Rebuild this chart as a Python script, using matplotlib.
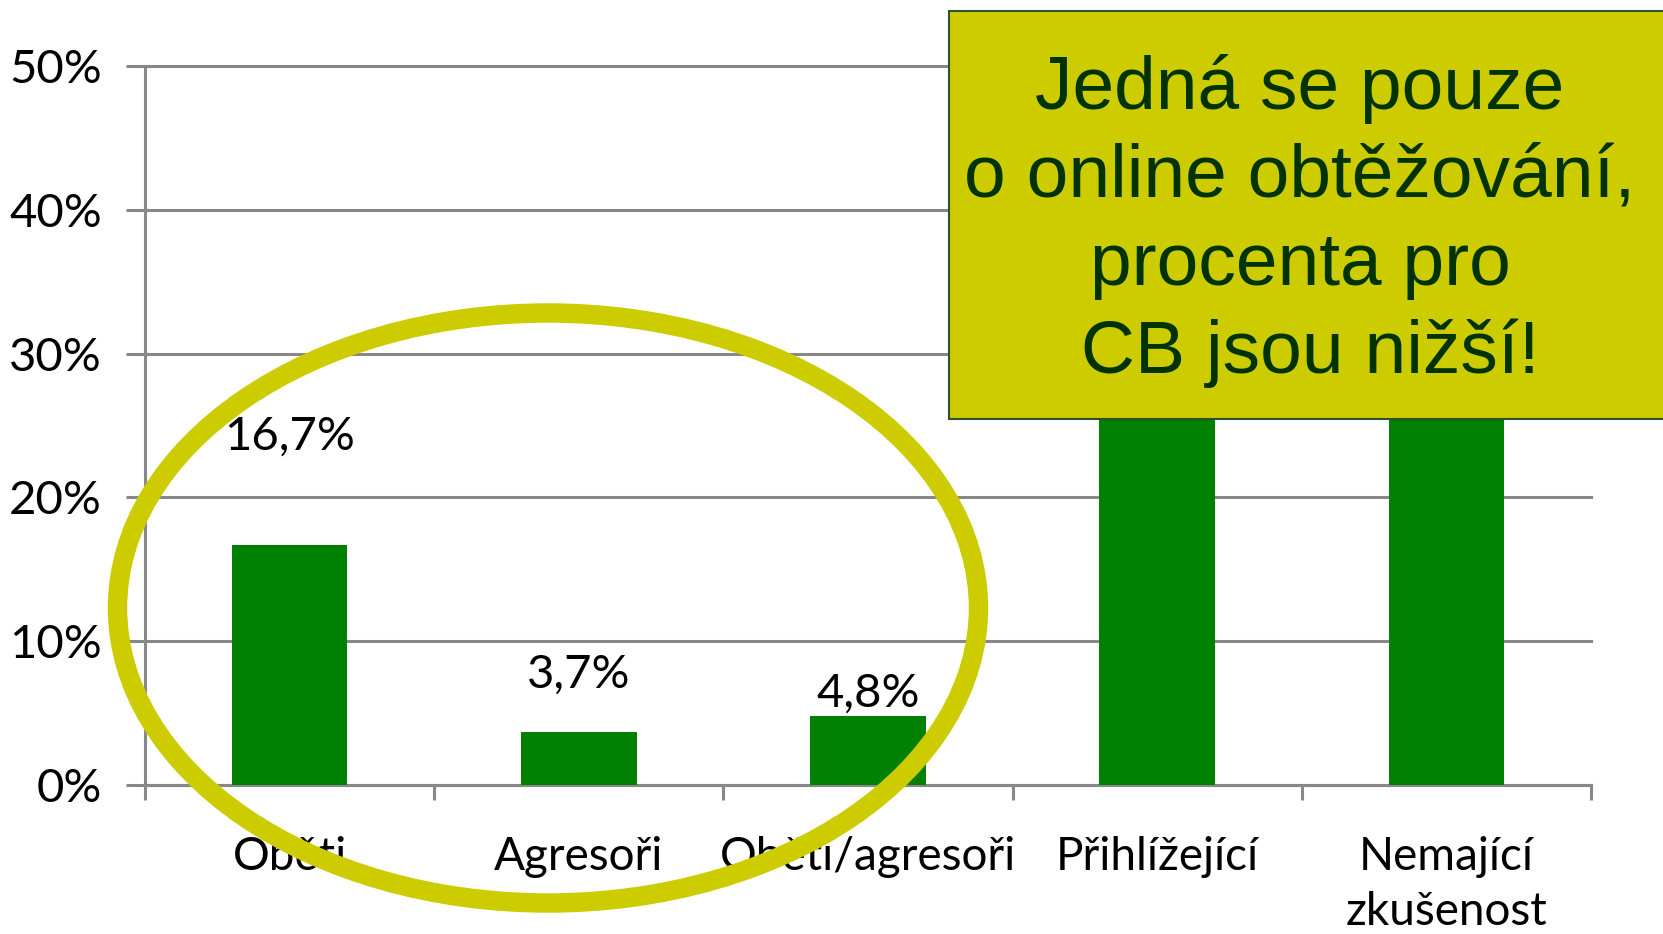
import matplotlib
matplotlib.use("Agg")
import matplotlib.pyplot as plt
from matplotlib.patches import Ellipse, Rectangle
from matplotlib.ticker import FuncFormatter

# data
kategorie = ["Oběti", "Agresoři", "Oběti/agresoři", "Přihlížející", "Nemající\nzkušenost"]
hodnoty = [16.7, 3.7, 4.8, 35.0, 45.0]
popisky = ["16,7%", "3,7%", "4,8%", None, None]   # last two are hidden under the box
posun = [7.5, 4.0, 1.55, 2.5, 2.5]   # label offset above bar (in %)
yticks = [0, 10, 20, 30, 40, 50]
poznamka = "Jedná se pouze\no online obtěžování,\nprocenta pro\n CB jsou nižší!"

W, H = 1663, 934
fig = plt.figure(figsize=(W / 100, H / 100), dpi=100)
ax = fig.add_axes([145 / W, 1 - 785 / H, (1591 - 145) / W, (785 - 66) / H])

grey = "#888888"
font = ["Lato", "DejaVu Sans"]
x = list(range(len(kategorie)))
ax.bar(x, hodnoty, width=0.4, color="#008000", zorder=3)

for xi, v, t, d in zip(x, hodnoty, popisky, posun):
    if t:
        ax.text(xi, v + d, t, ha="center", va="center", fontsize=34,
                family=font, color="black", zorder=4)

ax.set_xlim(-0.5, len(kategorie) - 0.5)
ax.set_ylim(0, 50)
ax.set_yticks(yticks)
ax.yaxis.set_major_formatter(FuncFormatter(lambda v, p: f"{v:.0f}%"))
ax.grid(axis="y", color=grey, linewidth=2.2, zorder=0)
for gl in ax.get_ygridlines():
    gl.set_clip_on(False)

ax.set_xticks([i - 0.5 for i in range(len(kategorie) + 1)])
ax.set_xticklabels([])
ax.set_xticks(x, minor=True)
ax.set_xticklabels(kategorie, minor=True, fontsize=33, family=font, linespacing=1.38)
ax.tick_params(axis="x", which="minor", length=0, pad=37)
ax.tick_params(axis="x", which="major", length=11, width=2.2, color=grey)
ax.tick_params(axis="y", length=14, width=2.2, color=grey, pad=17, labelsize=34)
for lab in ax.get_yticklabels():
    lab.set_family(font)

for s in ["top", "right"]:
    ax.spines[s].set_visible(False)
for s in ["left", "bottom"]:
    ax.spines[s].set_color(grey)
    ax.spines[s].set_linewidth(2.2)

# ring around the first three categories
ring = Ellipse((548 / W, 1 - 608 / H), 861 / W, 590 / H, transform=fig.transFigure,
               fill=False, edgecolor="#CCCC00", linewidth=14, zorder=10)
fig.add_artist(ring)

# note box
box = Rectangle((949 / W, 1 - 419 / H), (1700 - 949) / W, (419 - 10.6) / H,
                transform=fig.transFigure, facecolor="#CCCC00",
                edgecolor="#2F4F2F", linewidth=1.5, zorder=11)
fig.add_artist(box)
fig.text(1300 / W, 1 - 221 / H, poznamka, ha="center", va="center", fontsize=54,
         family="Liberation Sans", color="#003300", linespacing=1.35, zorder=12)

fig.savefig("out.png", dpi=100)
